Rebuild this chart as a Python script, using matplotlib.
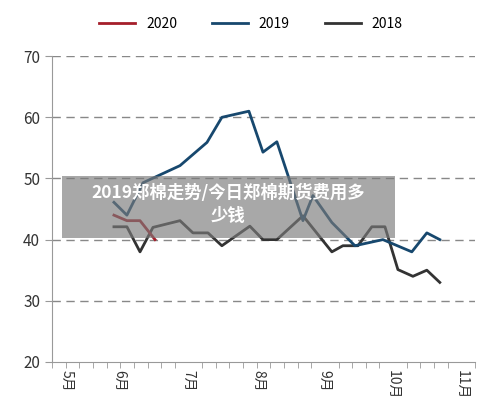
import matplotlib
matplotlib.use("Agg")
import matplotlib.pyplot as plt
from matplotlib.patches import Rectangle

plt.rcParams['font.family'] = ['Noto Sans CJK SC', 'DejaVu Sans']

x2019 = [4.54,5.49,6.67,9.38,11.36,12.45,14.43,15.46,16.48,18.39,19.12,20.51,22.2,24.25,26.37,27.47,28.42]
y2019 = [46.1,44,49.3,52.1,55.9,60,61,54.3,56,43.1,47.2,42.8,39,40,38,41.1,40]
x2018 = [4.54,5.49,6.45,7.4,9.38,10.33,11.43,12.45,14.5,15.46,16.48,18.39,20.51,21.32,22.42,23.44,24.4,25.35,26.45,27.47,28.42]
y2018 = [42.1,42.1,38,42,43.1,41.1,41.1,39,42.2,40,40,43.9,38,39,39,42.1,42.1,35.1,34,35,33]
x2020 = [4.54,5.49,6.45,7.55]
y2020 = [44,43.1,43.1,40]
month_pos = [1.1,4.9,10.0,15.1,20.0,25.0,30.0]
month_labels = ['5月','6月','7月','8月','9月','10月','11月']

fig = plt.figure(figsize=(5,4.16), dpi=100)
ax = fig.add_axes([0.104,0.13,0.846,0.735])
ax.plot(x2020, y2020, color='#A51E2A', lw=2, label='2020', zorder=4)
ax.plot(x2019, y2019, color='#17486E', lw=2, label='2019', zorder=3)
ax.plot(x2018, y2018, color='#333333', lw=2, label='2018', zorder=2)
ax.set_xlim(0,31)
ax.set_ylim(20,70)
ax.set_yticks(range(20,71,10))
ax.set_xticks(range(0,32), minor=True)
ax.set_xticks(month_pos)
ax.set_xticklabels(month_labels, rotation=-90, fontsize=10, color='#333333')
ax.tick_params(axis='x', which='major', length=0, pad=6)
ax.tick_params(axis='x', which='minor', length=4, color='#999999', direction='out')
ax.tick_params(axis='y', length=5, color='#999999', labelsize=11, labelcolor='#333333')
for v in range(30,71,10):
    ax.axhline(v, color='#888888', lw=1, ls=(0,(6,4)), zorder=1)
for s in ['top','right']:
    ax.spines[s].set_visible(False)
for s in ['left','bottom']:
    ax.spines[s].set_color('#999999')
ax.legend(loc='upper center', bbox_to_anchor=(0.47,1.17), ncol=3, frameon=False,
          fontsize=10, handlelength=2.6, columnspacing=2.5)
fig.patches.append(Rectangle((62/500, 1-238/416), 333/500, 62/416, transform=fig.transFigure,
                             facecolor='#7a7a7a', alpha=0.65, zorder=10))
fig.text(228/500, 1-193/416, '2019郑棉走势/今日郑棉期货费用多', color='white', fontsize=12.5,
         fontweight='bold', ha='center', va='center', zorder=11)
fig.text(228/500, 1-216/416, '少钱', color='white', fontsize=12.5,
         fontweight='bold', ha='center', va='center', zorder=11)
fig.savefig('out.png', dpi=100)
